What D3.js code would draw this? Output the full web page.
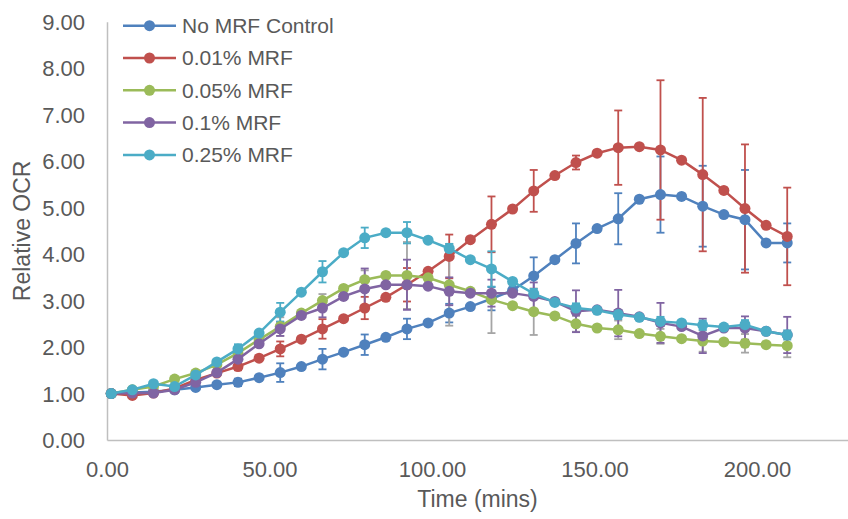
<!DOCTYPE html>
<html>
<head>
<meta charset="utf-8">
<script src="https://cdn.jsdelivr.net/npm/d3@7"></script>
<style>
  body { margin: 0; background: #fff; }
  text { font-family: "Liberation Sans", Arial, sans-serif; fill: #595959; }
</style>
</head>
<body>
<div id="chart"></div>
<script>
// time points (mins)
const times = [1.3, 7.8, 14.3, 20.8, 27.3, 33.8, 40.3, 46.8, 53.3, 59.8, 66.3, 72.8, 79.3, 85.8, 92.3, 98.8,
    105.3, 111.8, 118.3, 124.8, 131.3, 137.8, 144.3, 150.8, 157.3, 163.8, 170.3, 176.8, 183.3, 189.8, 196.3, 202.8, 209.3];

const seriesNames = ["No MRF Control", "0.01% MRF", "0.05% MRF", "0.1% MRF", "0.25% MRF"];
const seriesColors = ["#4F81BD", "#C0504D", "#9BBB59", "#8064A2", "#4BACC6"];
const errorColors = ["#4F81BD", "#C0504D", "#A5A5A5", "#8064A2", "#4BACC6"];

const ctrlValues = [1.00, 1.02, 1.04, 1.08, 1.13, 1.19, 1.24, 1.34, 1.45, 1.58, 1.74, 1.89, 2.05, 2.21, 2.39, 2.52,
    2.73, 2.87, 3.04, 3.22, 3.53, 3.88, 4.23, 4.55, 4.76, 5.18, 5.28, 5.24, 5.03, 4.85, 4.74, 4.24, 4.24];
const mrf001Values = [1.00, 0.96, 1.01, 1.11, 1.29, 1.44, 1.58, 1.76, 1.96, 2.17, 2.39, 2.61, 2.84, 3.07, 3.34, 3.63,
    3.95, 4.31, 4.64, 4.97, 5.36, 5.69, 5.97, 6.17, 6.29, 6.31, 6.24, 6.02, 5.71, 5.37, 4.98, 4.62, 4.38];
const mrf005Values = [1.00, 1.08, 1.15, 1.31, 1.44, 1.62, 1.87, 2.16, 2.44, 2.73, 3.00, 3.26, 3.45, 3.54, 3.54, 3.49,
    3.34, 3.20, 3.02, 2.89, 2.76, 2.67, 2.50, 2.41, 2.37, 2.29, 2.23, 2.18, 2.13, 2.11, 2.08, 2.05, 2.03];
const mrf01Values = [1.00, 1.01, 1.01, 1.08, 1.24, 1.45, 1.74, 2.07, 2.39, 2.68, 2.84, 3.09, 3.25, 3.34, 3.34, 3.31,
    3.20, 3.16, 3.16, 3.16, 3.09, 2.98, 2.77, 2.80, 2.73, 2.65, 2.52, 2.44, 2.24, 2.41, 2.41, 2.34, 2.26];
const mrf025Values = [1.00, 1.08, 1.21, 1.15, 1.40, 1.68, 1.96, 2.30, 2.75, 3.18, 3.62, 4.03, 4.35, 4.46, 4.46, 4.30,
    4.12, 3.88, 3.68, 3.41, 3.15, 2.96, 2.84, 2.79, 2.70, 2.64, 2.55, 2.52, 2.47, 2.43, 2.48, 2.34, 2.26];

// error bars (only every other time point has one)
const ctrlErr = [0, null, 0.03, null, 0.05, null, 0.08, null, 0.2, null, 0.22, null, 0.22, null, 0.22, null,
    0.2, null, 0.25, null, 0.4, null, 0.43, null, 0.55, null, 0.82, null, 0.87, null, 1.07, null, 0.42];
const mrf001Err = [0, null, 0.03, null, 0.05, null, 0.08, null, 0.16, null, 0.21, null, 0.24, null, 0.36, null,
    0.47, null, 0.6, null, 0.45, null, 0.15, null, 0.8, null, 1.5, null, 1.65, null, 1.38, null, 1.05];
const mrf005Err = [0, null, 0.03, null, 0.05, null, 0.1, null, 0.2, null, 0.14, null, 0.2, null, 0.72, null,
    0.88, null, 0.72, null, 0.5, null, 0.17, null, 0.2, null, 0.16, null, 0.23, null, 0.2, null, 0.25];
const mrf01Err = [0, null, 0.03, null, 0.05, null, 0.08, null, 0.15, null, 0.2, null, 0.44, null, 0.54, null,
    0.3, null, 0.29, null, 0.3, null, 0.45, null, 0.5, null, 0.43, null, 0.37, null, 0.25, null, 0.39];
const mrf025Err = [0, null, 0.03, null, 0.05, null, 0.1, null, 0.2, null, 0.23, null, 0.22, null, 0.23, null,
    0.1, null, 0.38, null, 0.1, null, 0.1, null, 0.1, null, 0.1, null, 0.1, null, 0.1, null, 0.1];

const xTicks = [0, 50, 100, 150, 200];
const yTicks = [0, 1, 2, 3, 4, 5, 6, 7, 8, 9];

const allValues = [ctrlValues, mrf001Values, mrf005Values, mrf01Values, mrf025Values];
const allErr = [ctrlErr, mrf001Err, mrf005Err, mrf01Err, mrf025Err];

const width = 848, height = 519;

const svg = d3.select("#chart").append("svg")
    .attr("width", width)
    .attr("height", height);

const x = d3.scaleLinear().domain([0, 228]).range([107, 848]);
const y = d3.scaleLinear().domain([0, 9]).range([440, 21.7]);

// axes
const xAxis = svg.append("g")
    .attr("transform", `translate(0, ${y(0)})`)
    .call(d3.axisBottom(x).tickValues(xTicks).tickSize(0).tickSizeOuter(0)
        .tickFormat(d3.format(".2f")));
xAxis.select(".domain").attr("stroke", "#BFBFBF").attr("stroke-width", 1.5);
xAxis.selectAll("text")
    .attr("y", 29).attr("dy", "0.35em")
    .style("font-size", "22px").attr("fill", "#595959");

const yAxis = svg.append("g")
    .attr("transform", `translate(${x(0)}, 0)`)
    .call(d3.axisLeft(y).tickValues(yTicks).tickSize(0).tickSizeOuter(0)
        .tickFormat(d3.format(".2f")));
yAxis.select(".domain").attr("stroke", "#BFBFBF").attr("stroke-width", 1.5);
yAxis.selectAll("text")
    .attr("x", -22).attr("dy", "0.35em")
    .style("font-size", "22px").attr("fill", "#595959");

// axis titles
svg.append("text")
    .attr("x", (x.range()[0] + x.range()[1]) / 2)
    .attr("y", 499)
    .attr("dy", "0.35em")
    .attr("text-anchor", "middle")
    .style("font-size", "23px")
    .text("Time (mins)");

svg.append("text")
    .attr("transform", `translate(22, ${(y(0) + y(9)) / 2}) rotate(-90)`)
    .attr("dy", "0.35em")
    .attr("text-anchor", "middle")
    .style("font-size", "23px")
    .text("Relative OCR");

// error bars under everything
allValues.forEach((vals, s) => {
    const g = svg.append("g").attr("stroke", errorColors[s]).attr("stroke-width", 1.8);
    vals.forEach((v, i) => {
        const e = allErr[s][i];
        if (e === null || e === 0) return;
        const cx = x(times[i]);
        g.append("line").attr("x1", cx).attr("x2", cx).attr("y1", y(v - e)).attr("y2", y(v + e));
        g.append("line").attr("x1", cx - 4).attr("x2", cx + 4).attr("y1", y(v - e)).attr("y2", y(v - e));
        g.append("line").attr("x1", cx - 4).attr("x2", cx + 4).attr("y1", y(v + e)).attr("y2", y(v + e));
    });
});

// lines + markers
const line = d3.line().x((d, i) => x(times[i])).y(d => y(d));

allValues.forEach((vals, s) => {
    svg.append("path")
        .datum(vals)
        .attr("fill", "none")
        .attr("stroke", seriesColors[s])
        .attr("stroke-width", 2.5)
        .attr("d", line);

    svg.append("g").selectAll("circle")
        .data(vals)
        .enter()
        .append("circle")
        .attr("cx", (d, i) => x(times[i]))
        .attr("cy", d => y(d))
        .attr("r", 5.5)
        .attr("fill", seriesColors[s]);
});

// legend
const legend = svg.append("g");
seriesNames.forEach((name, s) => {
    const ly = 25.7 + s * 32.3;
    legend.append("line")
        .attr("x1", 123).attr("x2", 176).attr("y1", ly).attr("y2", ly)
        .attr("stroke", seriesColors[s]).attr("stroke-width", 2.5);
    legend.append("circle")
        .attr("cx", 149.5).attr("cy", ly).attr("r", 5.5)
        .attr("fill", seriesColors[s]);
    legend.append("text")
        .attr("x", 182).attr("y", ly).attr("dy", "0.35em")
        .style("font-size", "21px")
        .text(name);
});
</script>
</body>
</html>
